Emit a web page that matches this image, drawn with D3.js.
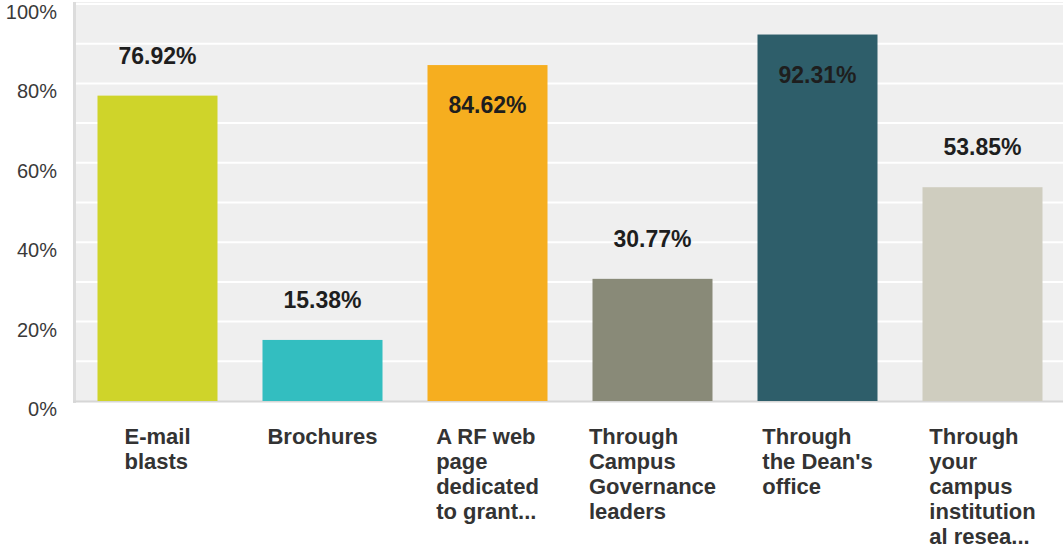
<!DOCTYPE html>
<html>
<head>
<meta charset="utf-8">
<script src="https://cdn.jsdelivr.net/npm/d3@7"></script>
<style>
  body { margin: 0; background: #fff; }
  text { font-family: "Liberation Sans", Arial, sans-serif; }
</style>
</head>
<body>
<div id="chart"></div>
<script>
// data
var categories = ['E-mail blasts', 'Brochures', 'A RF web page dedicated to grant...',
  'Through Campus Governance leaders', "Through the Dean's office",
  'Through your campus institutional resea...'];
// wrapped label lines as they appear (the original wraps and truncates)
var labelLines = [
  ['E-mail', 'blasts'],
  ['Brochures'],
  ['A RF web', 'page', 'dedicated', 'to grant...'],
  ['Through', 'Campus', 'Governance', 'leaders'],
  ['Through', "the Dean's", 'office'],
  ['Through', 'your', 'campus', 'institution', 'al resea...']
];
var values = [76.92, 15.38, 84.62, 30.77, 92.31, 53.85];
var colors = ['#cfd42a', '#33bec0', '#f6ae1f', '#898a78', '#2e5e6a', '#cfcdbf'];
var yTicks = [0, 20, 40, 60, 80, 100];
var gridTicks = [10, 20, 30, 40, 50, 60, 70, 80, 90, 100];

var width = 1063, height = 550;
var margin = { top: 4, left: 75, bottom: 401 };

var svg = d3.select('#chart').append('svg')
  .attr('width', width)
  .attr('height', height);

var x = d3.scaleBand()
  .domain(categories)
  .range([margin.left, margin.left + 6 * 165])
  .paddingInner(45 / 165)
  .paddingOuter(22.5 / 165);

var y = d3.scaleLinear()
  .domain([0, 100])
  .range([margin.bottom, margin.top]);

// plot background
svg.append('rect')
  .attr('x', margin.left)
  .attr('y', margin.top - 2)
  .attr('width', width - margin.left)
  .attr('height', margin.bottom - margin.top + 2)
  .attr('fill', '#efefef');

// gridlines
svg.selectAll('line.grid')
  .data(gridTicks)
  .enter()
  .append('line')
  .attr('class', 'grid')
  .attr('x1', margin.left)
  .attr('x2', width)
  .attr('y1', function(d) { return y(d); })
  .attr('y2', function(d) { return y(d); })
  .attr('stroke', '#fff')
  .attr('stroke-width', 2);

// axis lines
svg.append('line')
  .attr('x1', margin.left - 0.5).attr('x2', margin.left - 0.5)
  .attr('y1', margin.top - 2).attr('y2', margin.bottom + 2)
  .attr('stroke', '#dcdcdc').attr('stroke-width', 3);
svg.append('line')
  .attr('x1', margin.left - 2).attr('x2', width)
  .attr('y1', margin.bottom + 0.5).attr('y2', margin.bottom + 0.5)
  .attr('stroke', '#d6d6d6').attr('stroke-width', 2);

// y tick labels
svg.selectAll('text.ytick')
  .data(yTicks)
  .enter()
  .append('text')
  .attr('class', 'ytick')
  .attr('x', 57)
  .attr('y', function(d) { return y(d) + 15; })
  .attr('text-anchor', 'end')
  .attr('font-size', 20)
  .attr('fill', '#3a3a3a')
  .text(function(d) { return d + '%'; });

// bars
svg.selectAll('rect.bar')
  .data(values)
  .enter()
  .append('rect')
  .attr('class', 'bar')
  .attr('x', function(d, i) { return x(categories[i]); })
  .attr('y', function(d) { return y(d); })
  .attr('width', x.bandwidth())
  .attr('height', function(d) { return y(0) - y(d); })
  .attr('fill', function(d, i) { return colors[i]; });

// value labels: above the bar, or inside when there is no room
svg.selectAll('text.val')
  .data(values)
  .enter()
  .append('text')
  .attr('class', 'val')
  .attr('x', function(d, i) { return x(categories[i]) + x.bandwidth() / 2; })
  .attr('y', function(d) {
    var top = y(d);
    return (top - 40 < 45 ? top + 40 : top - 40);
  })
  .attr('dy', '0.36em')
  .attr('text-anchor', 'middle')
  .attr('font-size', 23)
  .attr('font-weight', 'bold')
  .attr('fill', '#1e1e1e')
  .text(function(d) { return d.toFixed(2) + '%'; });

// category labels, left-aligned block centred under each bar
labelLines.forEach(function(lines, i) {
  var g = svg.append('g');
  var t = g.append('text')
    .attr('font-size', 22)
    .attr('font-weight', 'bold')
    .attr('fill', '#333');
  lines.forEach(function(line, j) {
    t.append('tspan')
      .attr('x', 0)
      .attr('y', 444 + j * 25)
      .text(line);
  });
  var w = t.node().getBBox().width;
  var cx = x(categories[i]) + x.bandwidth() / 2;
  g.attr('transform', 'translate(' + (cx - w / 2) + ',0)');
});
</script>
</body>
</html>
